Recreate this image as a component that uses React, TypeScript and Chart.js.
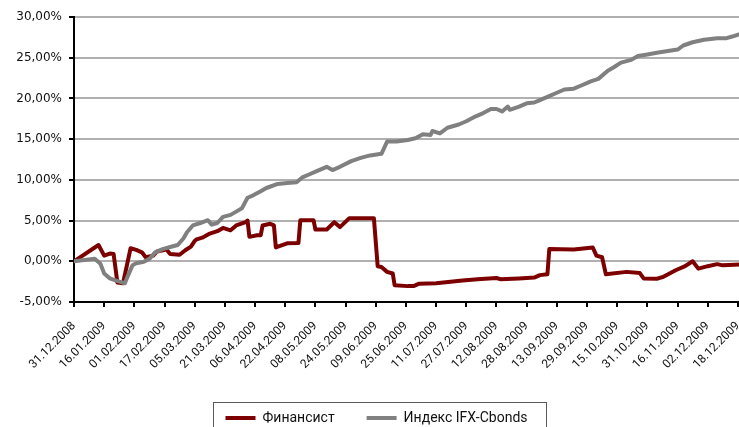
import { useEffect, useRef } from 'react';
import { Chart, registerables } from 'chart.js';

Chart.register(...registerables);

const seriesNames = ['Финансист', 'Индекс IFX-Cbonds'];
const seriesColors = ['#7c0000', '#808080'];

const xTickLabels = [
  '31.12.2008', '16.01.2009', '01.02.2009', '17.02.2009', '05.03.2009', '21.03.2009',
  '06.04.2009', '22.04.2009', '08.05.2009', '24.05.2009', '09.06.2009', '25.06.2009',
  '11.07.2009', '27.07.2009', '12.08.2009', '28.08.2009', '13.09.2009', '29.09.2009',
  '15.10.2009', '31.10.2009', '16.11.2009', '02.12.2009', '18.12.2009',
];
const xTickStepDays = 16;
const xMaxDay = 360;

const yTickValues = [-5, 0, 5, 10, 15, 20, 25, 30];
const yTickLabels = ['-5,00%', '0,00%', '5,00%', '10,00%', '15,00%', '20,00%', '25,00%', '30,00%'];

// Финансист: day index since 31.12.2008, value in %
const finDays = [
  0, 13, 16, 19, 21, 23, 26, 30, 33, 36, 38, 42, 44, 49, 51, 56, 59, 62, 64, 65,
  68, 72, 76, 79, 83, 86, 91, 92, 93, 97, 99, 100, 104, 106, 107, 113, 119, 120, 127, 128,
  134, 138, 141, 146, 159, 161, 163, 166, 169, 170, 177, 180, 183, 192, 206, 214, 224, 226, 236, 244,
  247, 251, 252, 265, 275, 277, 280, 282, 293, 300, 302, 309, 312, 319, 324, 328, 331, 336, 341, 344,
  353,
];
const finValues = [
  0.0, 2.0, 0.7, 0.95, 0.9, -2.6, -2.7, 1.6, 1.4, 1.1, 0.5, 0.7, 1.2, 1.45, 0.9, 0.8, 1.35, 1.8, 2.5, 2.7,
  2.9, 3.4, 3.7, 4.1, 3.8, 4.4, 4.8, 5.0, 3.0, 3.2, 3.2, 4.4, 4.6, 4.4, 1.7, 2.2, 2.25, 5.05, 5.05, 3.9,
  3.9, 4.8, 4.2, 5.3, 5.3, -0.6, -0.7, -1.3, -1.5, -2.95, -3.05, -3.05, -2.75, -2.7, -2.35, -2.2, -2.05, -2.2, -2.1, -2.0,
  -1.7, -1.6, 1.5, 1.45, 1.7, 0.7, 0.5, -1.6, -1.3, -1.45, -2.1, -2.15, -1.95, -1.1, -0.6, 0.0, -0.9, -0.6, -0.35, -0.5,
  -0.4,
];

// Индекс IFX-Cbonds
const ifxDays = [
  0, 11, 14, 16, 19, 22, 25, 27, 28, 31, 33, 37, 40, 43, 47, 51, 55, 58, 60, 63,
  67, 71, 73, 76, 79, 83, 86, 89, 92, 95, 99, 102, 108, 113, 118, 121, 124, 129, 134, 137,
  141, 147, 152, 157, 163, 166, 171, 177, 181, 185, 189, 190, 194, 198, 204, 208, 213, 217, 221, 224,
  227, 230, 231, 236, 240, 244, 247, 251, 256, 260, 265, 268, 274, 278, 283, 286, 290, 295, 299, 304,
  309, 314, 320, 323, 328, 334, 341, 346, 349, 353,
];
const ifxValues = [
  0.0, 0.3, -0.3, -1.5, -2.1, -2.35, -2.55, -2.7, -2.1, -0.5, -0.25, -0.05, 0.3, 1.1, 1.5, 1.75, 2.0, 2.8, 3.6, 4.4,
  4.7, 5.05, 4.5, 4.7, 5.45, 5.7, 6.1, 6.5, 7.8, 8.1, 8.6, 9.0, 9.5, 9.6, 9.7, 10.3, 10.6, 11.1, 11.6, 11.2,
  11.6, 12.3, 12.7, 13.0, 13.2, 14.7, 14.7, 14.9, 15.1, 15.6, 15.5, 16.0, 15.7, 16.4, 16.8, 17.2, 17.8, 18.2, 18.7, 18.7,
  18.4, 19.0, 18.6, 19.0, 19.4, 19.5, 19.8, 20.2, 20.7, 21.1, 21.2, 21.5, 22.1, 22.4, 23.4, 23.8, 24.4, 24.7, 25.2, 25.4,
  25.6, 25.8, 26.0, 26.5, 26.9, 27.2, 27.4, 27.4, 27.6, 27.9,
];

const legendFrame = {
  id: 'legendFrame',
  afterDraw(chart: any) {
    const boxes = chart.legend?.legendHitBoxes;
    if (!boxes || !boxes.length) return;
    const ctx = chart.ctx;
    const left = Math.round(Math.min(...boxes.map((b: any) => b.left)) - 13);
    const right = Math.round(Math.max(...boxes.map((b: any) => b.left + b.width)) + 18);
    const cy = boxes[0].top + boxes[0].height / 2;
    const top = Math.round(cy - 16);
    ctx.save();
    ctx.strokeStyle = '#5a5a5a';
    ctx.lineWidth = 1;
    ctx.strokeRect(left + 0.5, top + 0.5, right - left, 40);
    ctx.restore();
  },
};

export default function App() {
  const ref = useRef<HTMLCanvasElement>(null);

  useEffect(() => {
    const canvas = ref.current;
    if (!canvas) return;
    const chart = new Chart(canvas, {
      type: 'line',
      data: {
        datasets: [
          {
            label: seriesNames[0],
            data: finDays.map((d, i) => ({ x: d, y: finValues[i] })),
            borderColor: seriesColors[0],
            backgroundColor: seriesColors[0],
            borderWidth: 4,
            pointRadius: 0,
            tension: 0,
            borderJoinStyle: 'round',
            borderCapStyle: 'round',
            order: 1,
          },
          {
            label: seriesNames[1],
            data: ifxDays.map((d, i) => ({ x: d, y: ifxValues[i] })),
            borderColor: seriesColors[1],
            backgroundColor: seriesColors[1],
            borderWidth: 4,
            pointRadius: 0,
            tension: 0,
            borderJoinStyle: 'round',
            borderCapStyle: 'round',
            order: 0,
          },
        ],
      },
      options: {
        responsive: false,
        animation: false,
        events: [],
        layout: { padding: { top: 17, left: 0, right: 0, bottom: 0 } },
        plugins: {
          tooltip: { enabled: false },
          legend: {
            position: 'bottom',
            labels: {
              usePointStyle: true,
              pointStyle: 'line',
              pointStyleWidth: 30,
              padding: 32,
              color: '#111',
              font: { family: 'Roboto', size: 14 },
              sort: (a: any, b: any) => a.datasetIndex - b.datasetIndex,
            },
          },
        },
        scales: {
          x: {
            type: 'linear',
            min: 0,
            max: xMaxDay,
            afterBuildTicks: (scale: any) => {
              scale.ticks = xTickLabels.map((_, i) => ({ value: i * xTickStepDays }));
            },
            afterFit: (scale: any) => {
              scale.height = 77;
              scale.paddingRight = 0;
              scale.paddingLeft = 0;
            },
            ticks: {
              autoSkip: false,
              maxRotation: 45,
              minRotation: 45,
              padding: 12,
              color: '#111',
              font: { family: 'Roboto', size: 12 },
              callback: (_v: any, i: number) => xTickLabels[i],
            },
            grid: {
              drawOnChartArea: false,
              drawTicks: true,
              tickLength: 5,
              tickColor: '#000',
              lineWidth: 2,
            },
            border: { color: '#000', width: 2 },
          },
          y: {
            type: 'linear',
            min: -5,
            max: 30,
            afterBuildTicks: (scale: any) => {
              scale.ticks = yTickValues.map((v) => ({ value: v }));
            },
            afterFit: (scale: any) => {
              scale.width = 74;
            },
            ticks: {
              padding: 7,
              color: '#111',
              font: { family: 'DejaVu Sans', size: 12 },
              callback: (_v: any, i: number) => yTickLabels[i],
            },
            grid: {
              color: '#b0b0b0',
              lineWidth: 2,
              tickLength: 5,
              tickColor: '#000',
            },
            border: { color: '#000', width: 2 },
          },
        },
      },
      plugins: [legendFrame],
    } as any);
    return () => chart.destroy();
  }, []);

  return (
    <div
      style={{
        position: 'fixed',
        left: 0,
        top: 0,
        width: 739,
        height: 427,
        overflow: 'hidden',
        background: '#fff',
      }}
    >
      <canvas ref={ref} width={753} height={435} style={{ display: 'block', width: 753, height: 435 }} />
    </div>
  );
}
